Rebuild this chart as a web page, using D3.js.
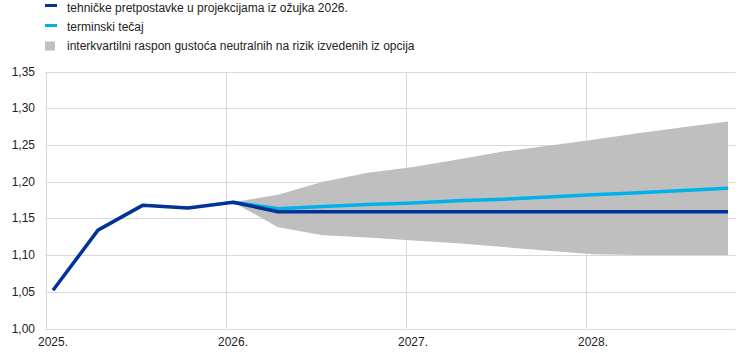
<!DOCTYPE html>
<html><head><meta charset="utf-8">
<script src="https://cdn.jsdelivr.net/npm/d3@7"></script>
<style>body{margin:0;background:#fff}svg{display:block;font-family:"Liberation Sans",Arial,sans-serif}</style>
</head><body><svg id="c" width="744" height="353"></svg>
<script>
// Quarterly observations (first month of each quarter)
const quarters = ["2025-01","2025-04","2025-07","2025-10","2026-01","2026-04","2026-07","2026-10","2027-01","2027-04","2027-07","2027-10","2028-01","2028-04","2028-07","2028-10"];
const technical = [1.052,1.134,1.168,1.164,1.172,1.159,1.159,1.159,1.159,1.159,1.159,1.159,1.159,1.159,1.159,1.159];
const forwardQ = ["2026-01","2026-04","2026-07","2026-10","2027-01","2027-04","2027-07","2027-10","2028-01","2028-04","2028-07","2028-10"];
const forward = [1.172,1.163,1.166,1.169,1.171,1.174,1.176,1.179,1.182,1.185,1.188,1.191];
const bandUpper = [1.172,1.182,1.200,1.212,1.220,1.230,1.241,1.249,1.257,1.266,1.274,1.282];
const bandLower = [1.172,1.138,1.127,1.124,1.120,1.116,1.111,1.106,1.101,1.100,1.100,1.100];
const years = ["2025","2026","2027","2028"];
const yTicks = [1.00,1.05,1.10,1.15,1.20,1.25,1.30,1.35];
const legendLabels = ["tehničke pretpostavke u projekcijama iz ožujka 2026.","terminski tečaj","interkvartilni raspon gustoća neutralnih na rizik izvedenih iz opcija"];
const colors = {tech:"#003299", fwd:"#00b1ea", band:"#bfbfbf", grid:"#d9d9d9"};

// monthly categorical axis Jan 2025 .. Oct 2028
const months = [];
for (let y = 2025; y <= 2028; y++) for (let m = 1; m <= 12; m++) {
  if (y === 2028 && m > 10) break;
  months.push(y + "-" + String(m).padStart(2,"0"));
}

const svg = d3.select("#c");
const x = d3.scaleBand().domain(months).range([45.5, 735.5]).padding(0);
const xc = d => x(d) + x.bandwidth()/2;
const y = d3.scaleLinear().domain([1.00,1.35]).range([328.5, 71.5]);

const g = svg.append("g");
// horizontal gridlines
g.selectAll("line.h").data(yTicks).join("line")
  .attr("x1", 45.5).attr("x2", 735.5)
  .attr("y1", d => Math.round(y(d))+0.5).attr("y2", d => Math.round(y(d))+0.5)
  .attr("stroke", colors.grid).attr("stroke-width", 1);
// vertical gridlines at year starts
g.selectAll("line.v").data(years).join("line")
  .attr("x1", d => Math.round(x(d+"-01"))+0.5).attr("x2", d => Math.round(x(d+"-01"))+0.5)
  .attr("y1", 71.5).attr("y2", 328.5)
  .attr("stroke", colors.grid).attr("stroke-width", 1);
// y labels
g.selectAll("text.y").data(yTicks).join("text")
  .attr("x", 35).attr("y", d => y(d) + 4)
  .attr("text-anchor", "end").attr("font-size", 12).attr("fill", "#222")
  .text(d => d3.format(".2f")(d).replace(".", ","));
// x labels
g.selectAll("text.x").data(years).join("text")
  .attr("x", d => xc(d+"-01")).attr("y", 346)
  .attr("text-anchor", "middle").attr("font-size", 12).attr("fill", "#222")
  .text(d => d + ".");

// band
const bandData = forwardQ.map((q,i) => ({q, hi: bandUpper[i], lo: bandLower[i]}));
g.append("path").datum(bandData)
  .attr("fill", colors.band)
  .attr("d", d3.area().x(d => xc(d.q)).y0(d => y(d.lo)).y1(d => y(d.hi)));

// lines
const line = d3.line().x(d => xc(d.q)).y(d => y(d.v));
g.append("path").datum(forwardQ.map((q,i) => ({q, v: forward[i]})))
  .attr("fill","none").attr("stroke", colors.fwd).attr("stroke-width", 3.5)
  .attr("stroke-linejoin","round").attr("d", line);
g.append("path").datum(quarters.map((q,i) => ({q, v: technical[i]})))
  .attr("fill","none").attr("stroke", colors.tech).attr("stroke-width", 3.5)
  .attr("stroke-linejoin","round").attr("d", line);

// legend
const lg = svg.append("g");
const rows = [0,1,2];
lg.selectAll("rect.sw").data(rows).join("rect")
  .attr("x", 45).attr("y", i => i < 2 ? 4 + i*20 : 41.5)
  .attr("width", i => i < 2 ? 12 : 10).attr("height", i => i < 2 ? 3 : 9)
  .attr("fill", i => [colors.tech, colors.fwd, colors.band][i]);
lg.selectAll("text").data(legendLabels).join("text")
  .attr("x", 67).attr("y", (d,i) => 12 + i*19.2)
  .attr("font-size", 12).attr("fill", "#222")
  .text(d => d);
</script></body></html>
